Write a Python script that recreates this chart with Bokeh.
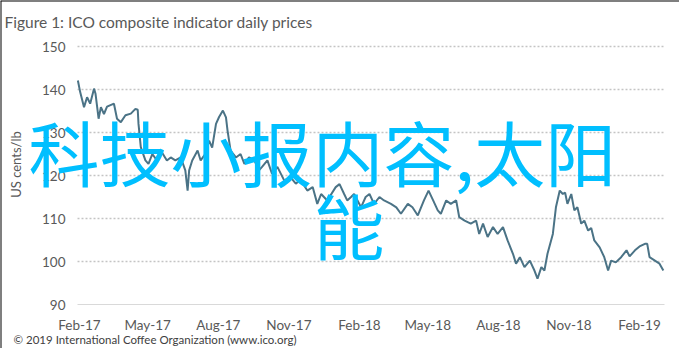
import math
import pandas as pd
from bokeh.plotting import figure
from bokeh.models import FixedTicker, Label, Range1d, DatetimeTickFormatter, Span
from bokeh.embed import file_html
from bokeh.resources import INLINE

# ---- data ----
dates = [
    "2017-01-30", "2017-02-02", "2017-02-07", "2017-02-11", "2017-02-15", "2017-02-20", "2017-02-22",
    "2017-02-26", "2017-03-01", "2017-03-05", "2017-03-09", "2017-03-18", "2017-03-22", "2017-03-27",
    "2017-04-02", "2017-04-09", "2017-04-15", "2017-04-18", "2017-04-19", "2017-04-22", "2017-04-28",
    "2017-05-02", "2017-05-07", "2017-05-13", "2017-05-18", "2017-05-26", "2017-05-31", "2017-06-06",
    "2017-06-13", "2017-06-19", "2017-06-22", "2017-06-24", "2017-06-28", "2017-07-05", "2017-07-09",
    "2017-07-15", "2017-07-20", "2017-07-24", "2017-07-29", "2017-08-02", "2017-08-07", "2017-08-11",
    "2017-08-13", "2017-08-17", "2017-08-24", "2017-08-30", "2017-09-04", "2017-09-10", "2017-09-17",
    "2017-09-23", "2017-09-27", "2017-10-04", "2017-10-10", "2017-10-17", "2017-10-26", "2017-11-03",
    "2017-11-10", "2017-11-16", "2017-11-25", "2017-12-02", "2017-12-08", "2017-12-13", "2017-12-21",
    "2018-01-01", "2018-01-06", "2018-01-12", "2018-01-16", "2018-01-21", "2018-01-25", "2018-02-03",
    "2018-02-09", "2018-02-14", "2018-02-20", "2018-02-27", "2018-03-05", "2018-03-14", "2018-03-21",
    "2018-03-27", "2018-04-05", "2018-04-11", "2018-04-18", "2018-04-26", "2018-05-02", "2018-05-08",
    "2018-05-14", "2018-05-18", "2018-05-25", "2018-05-31", "2018-06-07", "2018-06-11", "2018-06-18",
    "2018-06-26", "2018-07-03", "2018-07-07", "2018-07-12", "2018-07-18", "2018-07-25", "2018-07-31",
    "2018-08-07", "2018-08-13", "2018-08-20", "2018-08-24", "2018-08-29", "2018-09-04", "2018-09-11",
    "2018-09-17", "2018-09-21", "2018-09-26", "2018-09-30", "2018-10-04", "2018-10-11", "2018-10-15",
    "2018-10-20", "2018-10-24", "2018-10-27", "2018-10-30", "2018-11-04", "2018-11-08", "2018-11-12",
    "2018-11-17", "2018-11-21", "2018-11-26", "2018-11-30", "2018-12-04", "2018-12-11", "2018-12-17",
    "2018-12-22", "2018-12-26", "2019-01-01", "2019-01-08", "2019-01-15", "2019-01-19", "2019-01-26",
    "2019-02-01", "2019-02-08", "2019-02-11", "2019-02-14", "2019-02-21", "2019-02-27", "2019-03-04",
]
prices = [
    142.1, 139.4, 135.9, 138.2, 136.7, 140.2, 139.0,
    133.2, 135.9, 134.3, 136.0, 136.7, 133.2, 132.4,
    134.0, 134.4, 135.5, 135.3, 132.0, 126.6, 123.5,
    122.7, 125.0, 123.5, 125.8, 123.5, 124.2, 123.5,
    124.2, 121.2, 116.5, 121.2, 123.5, 125.8, 123.5,
    125.0, 128.1, 126.5, 132.0, 133.6, 135.1, 133.5,
    130.5, 125.8, 124.2, 125.0, 122.7, 124.2, 123.5,
    121.2, 122.0, 123.5, 120.4, 122.0, 118.8, 119.6,
    118.1, 119.0, 116.5, 117.3, 113.4, 115.7, 114.2,
    117.3, 118.0, 115.7, 114.2, 115.0, 115.7, 112.6,
    115.0, 115.7, 113.4, 115.0, 114.2, 113.4, 112.6,
    111.1, 113.4, 112.6, 110.7, 114.2, 116.5, 114.2,
    111.9, 111.1, 114.2, 113.4, 114.2, 110.3, 109.5,
    108.8, 109.5, 106.4, 108.8, 105.7, 108.0, 106.4,
    108.0, 104.9, 101.8, 99.5, 101.0, 98.7, 100.2,
    97.9, 96.0, 98.7, 97.9, 101.8, 106.4, 112.6,
    116.5, 115.7, 116.0, 113.4, 115.7, 111.9, 112.6,
    108.8, 109.5, 107.2, 107.8, 104.9, 103.3, 101.0,
    97.9, 100.2, 99.8, 101.0, 102.6, 101.2, 102.6,
    103.5, 104.1, 104.1, 101.0, 100.2, 99.5, 97.9,
]
y_ticks = [90, 100, 110, 120, 130, 140, 150]
x_tick_dates = ["2017-02-01", "2017-05-01", "2017-08-01", "2017-11-01", "2018-02-01",
                "2018-05-01", "2018-08-01", "2018-11-01", "2019-02-01"]
axis_dates = ["2017-01-29 12:00", "2019-03-05 12:00"]

title_text = "Figure 1: ICO composite indicator daily prices"
y_title = "US cents/lb"
footer_text = "\u00a9 2019 International Coffee Organization (www.ico.org)"
overlay_line1 = "科技小报内容,太阳"
overlay_line2 = "能"

# ---- geometry (pixels of the figure canvas) ----
W, H = 679, 348
PLOT_L, PLOT_R = 77, 664      # pixel columns of the axis start / end
PLOT_T, PLOT_B = 46, 304      # pixel rows of y = 150 / y = 90

def ms(s):
    return pd.Timestamp(s).value / 1e6

d0, d1 = ms(axis_dates[0]), ms(axis_dates[1])
ms_per_px = (d1 - d0) / (PLOT_R - PLOT_L)
u_per_px = (y_ticks[-1] - y_ticks[0]) / (PLOT_B - PLOT_T)
x_lo = d0 - PLOT_L * ms_per_px
x_hi = d0 + (W - PLOT_L) * ms_per_px
y_hi = y_ticks[-1] + PLOT_T * u_per_px
y_lo = y_ticks[0] - (H - PLOT_B) * u_per_px

def X(px):
    return d0 + (px - PLOT_L) * ms_per_px

def Y(py):
    return y_ticks[-1] - (py - PLOT_T) * u_per_px

FONT = "Lato"
GREY = "#595959"

p = figure(width=W, height=H, x_axis_type="datetime",
           x_range=Range1d(x_lo, x_hi), y_range=Range1d(y_lo, y_hi),
           output_backend="svg", toolbar_location=None,
           min_border_left=0, min_border_right=0, min_border_top=0, min_border_bottom=0,
           background_fill_color="white", border_fill_color="white")
p.outline_line_color = None
p.title.visible = False

p.line(pd.to_datetime(dates), prices, line_color="#4b7386", line_width=2)

# axes placed inside the canvas
p.xaxis.fixed_location = y_ticks[0]
p.xaxis.bounds = (d0, d1)
p.yaxis.fixed_location = d0
p.xaxis.ticker = FixedTicker(ticks=[ms(d) for d in x_tick_dates])
p.xaxis.formatter = DatetimeTickFormatter(days="%b-%y", months="%b-%y", years="%b-%y")
p.yaxis.ticker = FixedTicker(ticks=y_ticks)
for ax in (p.xaxis, p.yaxis):
    ax.major_tick_line_color = None
    ax.minor_tick_line_color = None
    ax.major_tick_in = 0
    ax.major_tick_out = 0
    ax.major_label_text_font = FONT
    ax.major_label_text_font_size = "13.5px"
    ax.major_label_text_color = GREY
p.xaxis.axis_line_color = "#d9d9d9"
p.xaxis.axis_line_width = 1
p.xaxis.major_label_standoff = 12
p.yaxis.axis_line_color = None
p.yaxis.major_label_standoff = 12

p.xgrid.visible = False
p.ygrid.ticker = FixedTicker(ticks=y_ticks[1:])
p.ygrid.cross_bounds = (d0, d1)
p.ygrid.grid_line_color = "#c4c4c4"
p.ygrid.grid_line_dash = "2 2"
p.ygrid.grid_line_width = 1.5

# outer frame lines (left and top edges of the picture)
p.add_layout(Span(location=x_lo, dimension="height", line_color="black", line_width=2))
p.add_layout(Span(location=y_hi, dimension="width", line_color="black", line_width=2))

# texts
p.add_layout(Label(x=X(4), y=Y(21), text=title_text,
                   text_font=FONT, text_font_size="15.5px", text_color=GREY,
                   text_baseline="alphabetic", text_align="left"))
p.add_layout(Label(x=X(15.5), y=Y(164), text=y_title, angle=math.pi / 2,
                   text_font=FONT, text_font_size="13px", text_color=GREY,
                   text_baseline="middle", text_align="center"))
p.add_layout(Label(x=X(13), y=Y(339), text=footer_text,
                   text_font=FONT, text_font_size="11.5px", text_color="#404040",
                   text_baseline="alphabetic", text_align="left"))
p.add_layout(Label(x=X(28), y=Y(149), text=overlay_line1,
                   text_font="Noto Sans CJK SC", text_font_size="71px", text_color="#00bfff",
                   text_baseline="alphabetic", text_align="left"))
p.add_layout(Label(x=X(313), y=Y(222), text=overlay_line2,
                   text_font="Noto Sans CJK SC", text_font_size="71px", text_color="#00bfff",
                   text_baseline="alphabetic", text_align="left"))

open("out.html", "w").write(file_html(p, INLINE))
